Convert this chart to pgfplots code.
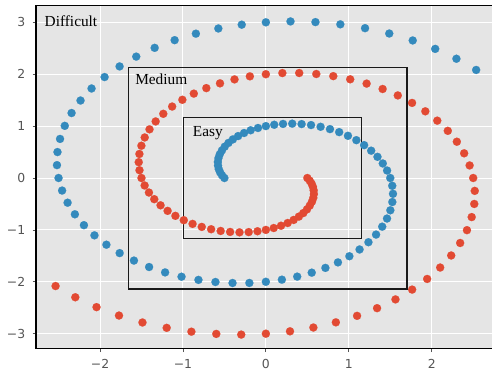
\documentclass[border=0pt]{standalone}
\usepackage{fontspec}
\setmainfont{Liberation Serif}[Ligatures=NoCommon]
\newfontfamily\tickfont{DejaVu Sans}
\usepackage{pgfplots}
\pgfplotsset{compat=1.18}
\definecolor{bgc}{HTML}{E5E5E5}
\definecolor{bl}{HTML}{348ABD}
\definecolor{rd}{HTML}{E24A33}
\definecolor{tk}{HTML}{555555}
\begin{document}
\begin{tikzpicture}
\begin{axis}[
  at={(0,0)}, anchor=south west,
  scale only axis, width=342pt, height=257.25pt,
  xmin=-2.772, xmax=2.727, ymin=-3.289, ymax=3.32,
  axis background/.style={fill=bgc},
  axis line style={draw=none},
  grid=major, major grid style={white, line width=0.75pt},
  xtick={-2,-1,0,1,2}, xticklabels={−2,−1,0,1,2},
  ytick={-3,-2,-1,0,1,2,3}, yticklabels={−3,−2,−1,0,1,2,3},
  tick align=outside, xtick pos=bottom, ytick pos=left,
  major tick length=2.6pt,
  tick style={tk, line width=0.6pt},
  ticklabel style={font=\tickfont\fontsize{9.3}{11}\selectfont, text=tk},
  xticklabel style={yshift=-2pt},
  yticklabel style={xshift=-2pt},
  clip=false,
]
\addplot[only marks, mark=*, color=bl, mark size=3.05pt, mark options={draw=bl, fill=bl, line width=0.1pt}] table {
x y
-0.500 0.000
-0.529 0.052
-0.552 0.110
-0.568 0.172
-0.577 0.239
-0.579 0.309
-0.572 0.382
-0.556 0.456
-0.530 0.530
-0.496 0.604
-0.451 0.676
-0.398 0.744
-0.335 0.808
-0.263 0.867
-0.183 0.920
-0.095 0.964
0.000 1.000
0.101 1.026
0.207 1.042
0.318 1.047
0.431 1.039
0.545 1.020
0.660 0.987
0.773 0.942
0.884 0.884
0.990 0.813
1.091 0.729
1.185 0.633
1.270 0.526
1.346 0.408
1.410 0.280
1.462 0.144
1.500 0.000
1.524 -0.150
1.533 -0.305
1.525 -0.463
1.501 -0.622
1.461 -0.781
1.403 -0.938
1.329 -1.090
1.237 -1.237
1.130 -1.377
1.007 -1.507
0.869 -1.626
0.718 -1.732
0.553 -1.824
0.378 -1.900
0.193 -1.959
0.000 -2.000
-0.199 -2.022
-0.402 -2.023
-0.608 -2.004
-0.813 -1.963
-1.017 -1.902
-1.215 -1.819
-1.408 -1.715
-1.591 -1.591
-1.763 -1.447
-1.923 -1.285
-2.067 -1.105
-2.194 -0.909
-2.303 -0.699
-2.391 -0.476
-2.457 -0.242
-2.500 0.000
-2.519 0.248
-2.513 0.500
-2.482 0.753
-2.425 1.005
-2.343 1.252
-2.235 1.493
-2.102 1.725
-1.945 1.945
-1.764 2.150
-1.563 2.339
-1.341 2.508
-1.100 2.656
-0.844 2.781
-0.573 2.881
-0.291 2.954
0.000 3.000
0.297 3.017
0.598 3.004
0.898 2.961
1.196 2.887
1.488 2.784
1.771 2.650
2.042 2.488
2.298 2.298
2.536 2.082
};
\addplot[only marks, mark=*, color=rd, mark size=3.05pt, mark options={draw=rd, fill=rd, line width=0.1pt}] table {
x y
0.500 0.000
0.529 -0.052
0.552 -0.110
0.568 -0.172
0.577 -0.239
0.579 -0.309
0.572 -0.382
0.556 -0.456
0.530 -0.530
0.496 -0.604
0.451 -0.676
0.398 -0.744
0.335 -0.808
0.263 -0.867
0.183 -0.920
0.095 -0.964
0.000 -1.000
-0.101 -1.026
-0.207 -1.042
-0.318 -1.047
-0.431 -1.039
-0.545 -1.020
-0.660 -0.987
-0.773 -0.942
-0.884 -0.884
-0.990 -0.813
-1.091 -0.729
-1.185 -0.633
-1.270 -0.526
-1.346 -0.408
-1.410 -0.280
-1.462 -0.144
-1.500 0.000
-1.524 0.150
-1.533 0.305
-1.525 0.463
-1.501 0.622
-1.461 0.781
-1.403 0.938
-1.329 1.090
-1.237 1.237
-1.130 1.377
-1.007 1.507
-0.869 1.626
-0.718 1.732
-0.553 1.824
-0.378 1.900
-0.193 1.959
0.000 2.000
0.199 2.022
0.402 2.023
0.608 2.004
0.813 1.963
1.017 1.902
1.215 1.819
1.408 1.715
1.591 1.591
1.763 1.447
1.923 1.285
2.067 1.105
2.194 0.909
2.303 0.699
2.391 0.476
2.457 0.242
2.500 0.000
2.519 -0.248
2.513 -0.500
2.482 -0.753
2.425 -1.005
2.343 -1.252
2.235 -1.493
2.102 -1.725
1.945 -1.945
1.764 -2.150
1.563 -2.339
1.341 -2.508
1.100 -2.656
0.844 -2.781
0.573 -2.881
0.291 -2.954
0.000 -3.000
-0.297 -3.017
-0.598 -3.004
-0.898 -2.961
-1.196 -2.887
-1.488 -2.784
-1.771 -2.650
-2.042 -2.488
-2.298 -2.298
-2.536 -2.082
};
\draw[black!90, line width=0.9pt] (axis cs:-0.99,-1.162) rectangle (axis cs:1.156,1.162);
\draw[black!90, line width=0.9pt] (axis cs:-1.66,-2.139) rectangle (axis cs:1.702,2.135);
\node[anchor=base west, inner sep=0pt, font=\fontsize{11.5}{13}\selectfont] at (axis cs:-2.67,2.915) {Difficult};
\node[anchor=base west, inner sep=0pt, font=\fontsize{11.5}{13}\selectfont] at (axis cs:-1.578,1.805) {Medium};
\node[anchor=base west, inner sep=0pt, font=\fontsize{11.5}{13}\selectfont] at (axis cs:-0.883,0.809) {Easy};
\draw[black, line width=1.1pt] (rel axis cs:1.01,1) -- (rel axis cs:0,1) -- (rel axis cs:0,0) -- (rel axis cs:1.01,0);
\end{axis}
\pgfresetboundingbox
\useasboundingbox (-27pt,-21.975pt) rectangle (342pt,261.525pt);
\end{tikzpicture}
\end{document}
